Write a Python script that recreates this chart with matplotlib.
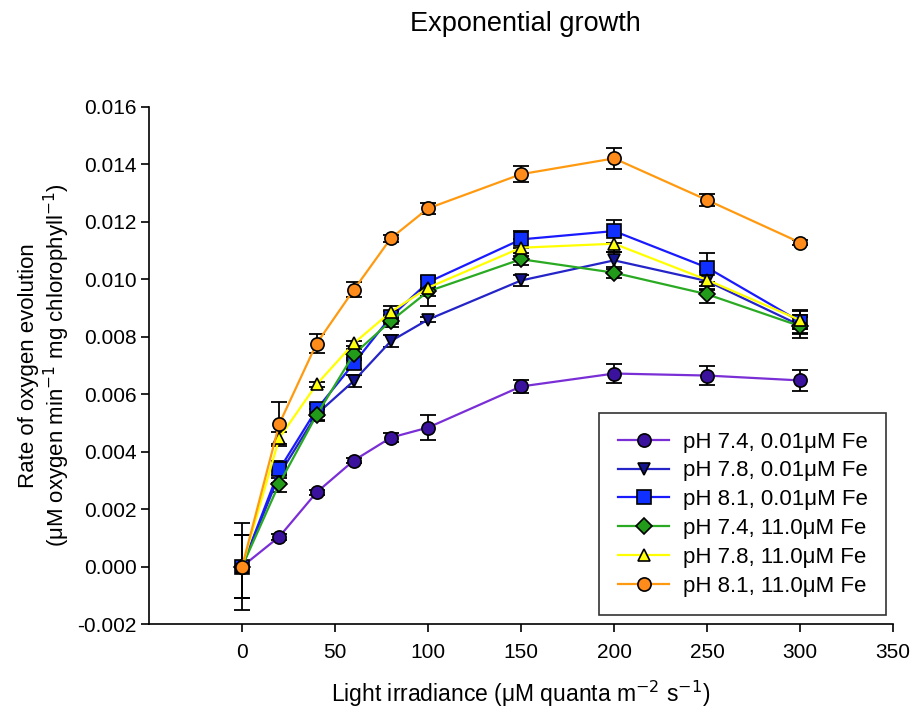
import numpy as np
import matplotlib
matplotlib.use("Agg")
import matplotlib.pyplot as plt
from matplotlib.ticker import FormatStrFormatter

plt.rcParams['font.family'] = ['Liberation Sans', 'DejaVu Sans']

# Light irradiance levels
light = [0, 20, 40, 60, 80, 100, 150, 200, 250, 300]

# Rates of oxygen evolution and their errors
ph74_low = [0.0000, 0.00104, 0.00258, 0.00369, 0.00449, 0.00484, 0.00627, 0.00672, 0.00665, 0.00648]
ph74_low_err = [0.0000, 0.0001, 0.0001, 0.0001, 0.00015, 0.00045, 0.00023, 0.00033, 0.00032, 0.00038]

ph78_low = [0.0000, 0.00320, 0.00530, 0.00646, 0.00785, 0.00860, 0.00996, 0.01066, 0.00994, 0.00840]
ph78_low_err = [0.0011, 0.0003, 0.0002, 0.0002, 0.0002, 0.0001, 0.0002, 0.0003, 0.0003, 0.0003]

ph81_low = [0.0000, 0.00338, 0.00547, 0.00707, 0.00870, 0.00990, 0.01139, 0.01168, 0.01041, 0.00853]
ph81_low_err = [0.0015, 0.0003, 0.0002, 0.0002, 0.0002, 0.0002, 0.0003, 0.0004, 0.0005, 0.0004]

ph74_high = [0.0000, 0.00289, 0.00527, 0.00739, 0.00855, 0.00958, 0.01070, 0.01023, 0.00948, 0.00837]
ph74_high_err = [0.0011, 0.0003, 0.0002, 0.0002, 0.0002, 0.0005, 0.0002, 0.0002, 0.0003, 0.0004]

ph78_high = [0.0000, 0.00448, 0.00634, 0.00777, 0.00887, 0.00971, 0.01110, 0.01124, 0.00998, 0.00858]
ph78_high_err = [0.0000, 0.0002, 0.0001, 0.0001, 0.0002, 0.0003, 0.0003, 0.0003, 0.0003, 0.0003]

ph81_high = [0.0000, 0.00497, 0.00776, 0.00963, 0.01143, 0.01247, 0.01366, 0.01421, 0.01276, 0.01128]
ph81_high_err = [0.0000, 0.00076, 0.00032, 0.00026, 0.00013, 0.0002, 0.00028, 0.00037, 0.0002, 0.0001]

labels = ["pH 7.4, 0.01\u03bcM Fe", "pH 7.8, 0.01\u03bcM Fe", "pH 8.1, 0.01\u03bcM Fe",
          "pH 7.4, 11.0\u03bcM Fe", "pH 7.8, 11.0\u03bcM Fe", "pH 8.1, 11.0\u03bcM Fe"]

series = [
    (ph74_low, ph74_low_err, 'o', '#7a2fd6', '#3a129e'),
    (ph78_low, ph78_low_err, 'v', '#2424c8', '#14148f'),
    (ph81_low, ph81_low_err, 's', '#1a1aff', '#1030ff'),
    (ph74_high, ph74_high_err, 'D', '#2aaa22', '#229a1a'),
    (ph78_high, ph78_high_err, '^', '#ffff00', '#ffff10'),
    (ph81_high, ph81_high_err, 'o', '#ff9a10', '#ff8c1a'),
]

fig = plt.figure(figsize=(9.15, 7.17), dpi=100)
ax = fig.add_axes([0.163, 0.1297, 0.813, 0.7211])

for (y, err, mk, lc, fc), lab in zip(series, labels):
    ax.errorbar(light, y, yerr=err, fmt='none', ecolor='black', elinewidth=1.3,
                capsize=6, capthick=1.3, zorder=2)
    ms = 8.5 if mk in ('D', 'v', '^') else 9.5
    ax.plot(light, y, color=lc, lw=1.6, marker=mk, markersize=ms,
            markerfacecolor=fc, markeredgecolor='black', markeredgewidth=1.2,
            label=lab, zorder=3)

ax.set_xlim(-50, 350)
ax.set_ylim(-0.002, 0.016)
ax.set_xticks(np.arange(0, 351, 50))
ax.set_yticks(np.arange(-0.002, 0.0161, 0.002))
ax.yaxis.set_major_formatter(FormatStrFormatter('%.3f'))
ax.tick_params(direction='out', length=6, width=1.2, labelsize=15, pad=3)
ax.tick_params(axis='x', pad=8)

ax.spines['top'].set_visible(False)
ax.spines['right'].set_visible(False)
ax.spines['left'].set_linewidth(1.2)
ax.spines['bottom'].set_linewidth(1.2)

ax.set_xlabel("Light irradiance (\u03bcM quanta m$^{-2}$ s$^{-1}$)", fontsize=16.5, labelpad=12)
ax.set_ylabel("Rate of oxygen evolution\n(\u03bcM oxygen min$^{-1}$ mg chlorophyll$^{-1}$)",
              fontsize=16, labelpad=4, linespacing=1.1)
fig.suptitle("Exponential growth", fontsize=19.5, x=0.574, y=0.985)

leg = ax.legend(loc='lower right', bbox_to_anchor=(1.006, -0.005), fontsize=16,
                frameon=True, fancybox=False, edgecolor='black', handlelength=2.3,
                borderpad=0.85, labelspacing=0.35, handletextpad=0.6)
leg.get_frame().set_linewidth(1.2)

fig.savefig("out.png", dpi=100)
